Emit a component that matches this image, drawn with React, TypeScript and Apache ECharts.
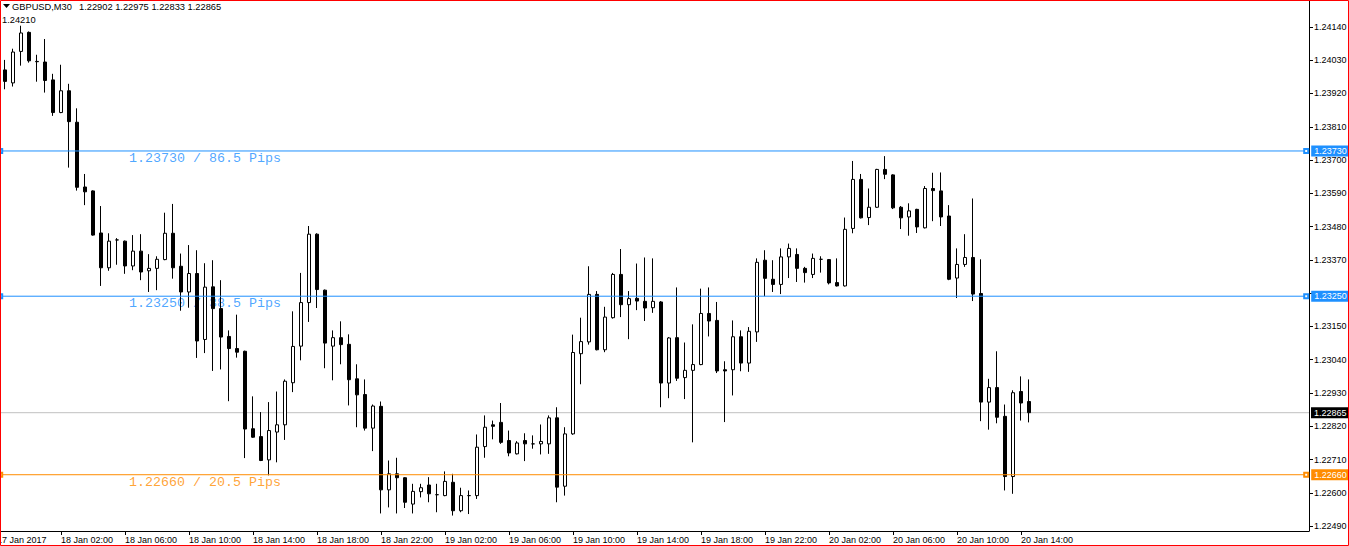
import React, { useEffect, useRef } from 'react';
import * as echarts from 'echarts';

// ---------- data ----------
const symbolTitle = 'GBPUSD,M30';
const headerOHLC = [1.22902, 1.22975, 1.22833, 1.22865];
const topPriceLabel = '1.24210';

const opens = [
  1.23998, 1.23955, 1.24059, 1.24122, 1.24026, 1.24024, 1.23965, 1.23857, 1.23929, 1.23825,
  1.23611, 1.23598, 1.23459, 1.23344, 1.23436, 1.23432, 1.23350, 1.23399, 1.23334, 1.23342,
  1.23371, 1.23458, 1.23349, 1.23264, 1.23325, 1.23107, 1.23281, 1.23209, 1.23117, 1.23077,
  1.23068, 1.22812, 1.22786, 1.22709, 1.22801, 1.22825, 1.22964, 1.23085, 1.23229, 1.23455,
  1.23270, 1.23085, 1.23113, 1.23091, 1.22977, 1.22925, 1.22814, 1.22886, 1.22610, 1.22663,
  1.22650, 1.22563, 1.22604, 1.22626, 1.22594, 1.22591, 1.22635, 1.22541, 1.22591, 1.22591,
  1.22753, 1.22825, 1.22833, 1.22773, 1.22729, 1.22773, 1.22762, 1.22762, 1.22762, 1.22848,
  1.22622, 1.22795, 1.23060, 1.23099, 1.23256, 1.23073, 1.23179, 1.23322, 1.23222, 1.23243,
  1.23233, 1.23212, 1.23231, 1.22963, 1.23113, 1.22981, 1.23005, 1.23024, 1.23193, 1.23170,
  1.23007, 1.23007, 1.23116, 1.23029, 1.23132, 1.23369, 1.23306, 1.23289, 1.23380, 1.23388,
  1.23342, 1.23322, 1.23372, 1.23371, 1.23295, 1.23284, 1.23474, 1.23636, 1.23510, 1.23544,
  1.23669, 1.23651, 1.23544, 1.23512, 1.23537, 1.23476, 1.23606, 1.23598, 1.23515, 1.23310,
  1.23355, 1.23378, 1.23259, 1.22900, 1.22948, 1.22853, 1.22654, 1.22935, 1.22902,
];
const highs = [
  1.24031, 1.24068, 1.24144, 1.24125, 1.24048, 1.24100, 1.23985, 1.24015, 1.23952, 1.23871,
  1.23654, 1.23600, 1.23548, 1.23458, 1.23442, 1.23434, 1.23452, 1.23455, 1.23389, 1.23382,
  1.23526, 1.23555, 1.23391, 1.23419, 1.23402, 1.23359, 1.23369, 1.23303, 1.23137, 1.23189,
  1.23070, 1.22919, 1.22867, 1.22900, 1.22935, 1.22975, 1.23200, 1.23327, 1.23482, 1.23458,
  1.23272, 1.23137, 1.23167, 1.23124, 1.23025, 1.22975, 1.22892, 1.22902, 1.22707, 1.22716,
  1.22652, 1.22630, 1.22630, 1.22652, 1.22630, 1.22671, 1.22663, 1.22617, 1.22608, 1.22793,
  1.22856, 1.22839, 1.22897, 1.22806, 1.22771, 1.22797, 1.22790, 1.22826, 1.22856, 1.22883,
  1.22817, 1.23123, 1.23179, 1.23349, 1.23267, 1.23215, 1.23327, 1.23406, 1.23267, 1.23358,
  1.23378, 1.23375, 1.23234, 1.23115, 1.23279, 1.23097, 1.23157, 1.23275, 1.23279, 1.23231,
  1.23035, 1.23170, 1.23137, 1.23148, 1.23375, 1.23402, 1.23369, 1.23408, 1.23424, 1.23408,
  1.23347, 1.23391, 1.23382, 1.23373, 1.23375, 1.23510, 1.23697, 1.23654, 1.23606, 1.23671,
  1.23713, 1.23653, 1.23548, 1.23557, 1.23539, 1.23614, 1.23658, 1.23659, 1.23551, 1.23408,
  1.23455, 1.23573, 1.23372, 1.22977, 1.23068, 1.22892, 1.22939, 1.22985, 1.22975,
];
const lows = [
  1.23934, 1.23943, 1.24012, 1.24022, 1.23959, 1.23923, 1.23846, 1.23855, 1.23675, 1.23599,
  1.23551, 1.23450, 1.23284, 1.23334, 1.23354, 1.23324, 1.23336, 1.23303, 1.23264, 1.23270,
  1.23369, 1.23308, 1.23202, 1.23212, 1.23046, 1.23062, 1.23003, 1.23008, 1.22903, 1.23047,
  1.22715, 1.22782, 1.22705, 1.22658, 1.22701, 1.22775, 1.22933, 1.23038, 1.23165, 1.23211,
  1.23012, 1.22972, 1.23025, 1.22889, 1.22817, 1.22806, 1.22738, 1.22532, 1.22552, 1.22532,
  1.22550, 1.22532, 1.22585, 1.22569, 1.22536, 1.22589, 1.22525, 1.22536, 1.22530, 1.22580,
  1.22716, 1.22777, 1.22762, 1.22721, 1.22727, 1.22705, 1.22746, 1.22727, 1.22729, 1.22569,
  1.22591, 1.22792, 1.22959, 1.23090, 1.23071, 1.23065, 1.23176, 1.23181, 1.23108, 1.23204,
  1.23168, 1.23195, 1.22883, 1.22913, 1.22970, 1.22910, 1.22767, 1.23022, 1.23117, 1.22996,
  1.22834, 1.22922, 1.23002, 1.23000, 1.23099, 1.23250, 1.23264, 1.23257, 1.23310, 1.23297,
  1.23295, 1.23310, 1.23328, 1.23289, 1.23282, 1.23282, 1.23458, 1.23507, 1.23485, 1.23542,
  1.23637, 1.23538, 1.23472, 1.23450, 1.23459, 1.23474, 1.23498, 1.23482, 1.23303, 1.23244,
  1.23347, 1.23234, 1.22837, 1.22809, 1.22830, 1.22608, 1.22597, 1.22839, 1.22833,
];
const closes = [
  1.23960, 1.24057, 1.24120, 1.24028, 1.24025, 1.23963, 1.23857, 1.23929, 1.23827, 1.23610,
  1.23595, 1.23452, 1.23344, 1.23432, 1.23436, 1.23350, 1.23399, 1.23330, 1.23342, 1.23372,
  1.23458, 1.23344, 1.23264, 1.23325, 1.23102, 1.23280, 1.23209, 1.23115, 1.23077, 1.23065,
  1.22811, 1.22784, 1.22707, 1.22806, 1.22825, 1.22969, 1.23084, 1.23229, 1.23455, 1.23272,
  1.23095, 1.23113, 1.23090, 1.22974, 1.22924, 1.22814, 1.22887, 1.22610, 1.22663, 1.22650,
  1.22569, 1.22605, 1.22617, 1.22597, 1.22594, 1.22638, 1.22541, 1.22591, 1.22591, 1.22751,
  1.22817, 1.22820, 1.22767, 1.22732, 1.22765, 1.22762, 1.22762, 1.22770, 1.22848, 1.22619,
  1.22795, 1.23064, 1.23100, 1.23256, 1.23073, 1.23181, 1.23322, 1.23222, 1.23242, 1.23234,
  1.23211, 1.23233, 1.22963, 1.23112, 1.22979, 1.23005, 1.23024, 1.23193, 1.23168, 1.23003,
  1.23003, 1.23116, 1.23029, 1.23134, 1.23362, 1.23309, 1.23289, 1.23380, 1.23408, 1.23342,
  1.23328, 1.23375, 1.23372, 1.23294, 1.23284, 1.23471, 1.23636, 1.23509, 1.23544, 1.23669,
  1.23653, 1.23542, 1.23509, 1.23532, 1.23479, 1.23606, 1.23599, 1.23512, 1.23306, 1.23355,
  1.23378, 1.23257, 1.22900, 1.22948, 1.22850, 1.22654, 1.22931, 1.22897, 1.22865,
];

// time-axis labels, one every 8 bars (4 hours of M30 bars)
const timeLabels = [
  '17 Jan 2017', '18 Jan 02:00', '18 Jan 06:00', '18 Jan 10:00', '18 Jan 14:00', '18 Jan 18:00',
  '18 Jan 22:00', '19 Jan 02:00', '19 Jan 06:00', '19 Jan 10:00', '19 Jan 14:00', '19 Jan 18:00',
  '19 Jan 22:00', '20 Jan 02:00', '20 Jan 06:00', '20 Jan 10:00', '20 Jan 14:00',
];
const priceTicks = [
  1.2249, 1.226, 1.2271, 1.2282, 1.2293, 1.2304, 1.2315, 1.2326,
  1.2337, 1.2348, 1.2359, 1.237, 1.2381, 1.2392, 1.2403, 1.2414,
];
const levelPrices = [1.2373, 1.2325, 1.2266];
const levelColors = ['#1E90FF', '#1E90FF', '#FF8C00'];
const currentPrice = 1.22865;

// ---------- layout constants ----------
const SANS = 'Liberation Sans, Arial, sans-serif';
const MONO = 'Liberation Mono, Courier New, monospace';
const X_MIN = -1;
const X_MAX = 163;
const Y_MIN = 1.22474;
const Y_MAX = 1.24229;
const BARS_PER_LABEL = 8;
const LEVEL_START = -0.6;
const LEVEL_END = 162.65;
const PIPS_ANCHOR = 15.5;
const LABEL_HIDE_GAP = 0.00015; // price labels covered by a level's price box

export default function App() {
  const ref = useRef<HTMLDivElement>(null);

  useEffect(() => {
    if (!ref.current) return;
    const chart = echarts.init(ref.current, null, { renderer: 'svg' });

    const xTickValues = timeLabels.map((_, i) => X_MIN + BARS_PER_LABEL * i);
    const priceLabelValues = priceTicks.filter(
      (t) => !levelPrices.some((p) => Math.abs(p - t) < LABEL_HIDE_GAP)
    );
    const candleData = opens.map((o, i) => [i, o, closes[i], lows[i], highs[i]]);

    const levelSeries = levelPrices.map((p, i) => ({
      type: 'line',
      z: 4,
      clip: false,
      silent: true,
      data: [[LEVEL_START, p], [LEVEL_END, p]],
      symbol: 'emptyRect',
      symbolSize: 4,
      showSymbol: true,
      lineStyle: { color: levelColors[i], width: 1 },
      itemStyle: { color: levelColors[i], borderColor: levelColors[i], borderWidth: 1 },
      endLabel: {
        show: true,
        formatter: () => p.toFixed(5),
        distance: 5,
        color: '#fff',
        backgroundColor: levelColors[i],
        fontFamily: SANS,
        fontSize: 9,
        lineHeight: 11,
        padding: [0, 4, 0, 3],
      },
    }));

    const option: any = {
      animation: false,
      backgroundColor: '#fff',
      grid: {
        left: -3, top: 0, width: 1312, height: 531, show: false,
        containLabel: false, outerBoundsMode: 'none',
      },
      xAxis: {
        type: 'value',
        min: X_MIN,
        max: X_MAX,
        axisLine: { show: true, onZero: false, lineStyle: { color: '#000', width: 1 } },
        axisTick: { show: true, customValues: xTickValues, length: 4, lineStyle: { color: '#000' } },
        axisLabel: {
          show: true,
          customValues: xTickValues,
          formatter: (v: number) => timeLabels[Math.round((v - X_MIN) / BARS_PER_LABEL)] ?? '',
          align: 'left',
          margin: 4,
          fontSize: 9,
          fontFamily: SANS,
          color: '#000',
        },
        splitLine: { show: false },
      },
      yAxis: {
        type: 'value',
        position: 'right',
        min: Y_MIN,
        max: Y_MAX,
        axisLine: { show: true, onZero: false, lineStyle: { color: '#000', width: 1 } },
        axisTick: { show: true, customValues: priceTicks, length: 4, lineStyle: { color: '#000' } },
        axisLabel: {
          show: true,
          customValues: priceLabelValues,
          formatter: (v: number) => v.toFixed(5),
          margin: 5,
          fontSize: 9,
          fontFamily: SANS,
          color: '#000',
        },
        splitLine: { show: false },
      },
      graphic: [
        { type: 'polygon', shape: { points: [[3, 4], [10, 4], [6.5, 8]] }, style: { fill: '#000' } },
        {
          type: 'text', x: 12, y: 7.2,
          style: { text: symbolTitle, fontSize: 9.3, fontFamily: SANS, fill: '#000', align: 'left', verticalAlign: 'middle' },
        },
        {
          type: 'text', x: 79, y: 7.2,
          style: { text: headerOHLC.map((v) => v.toFixed(5)).join(' '), fontSize: 9.3, fontFamily: SANS, fill: '#000', align: 'left', verticalAlign: 'middle' },
        },
        {
          type: 'text', x: 2, y: 19.7,
          style: { text: topPriceLabel, fontSize: 9.3, fontFamily: SANS, fill: '#000', align: 'left', verticalAlign: 'middle' },
        },
        {
          type: 'rect', z: 100,
          shape: { x: 0.5, y: 0.5, width: 1348, height: 545 },
          style: { fill: 'none', stroke: '#FF0000', lineWidth: 1 },
        },
      ],
      series: [
        {
          type: 'scatter',
          z: 1,
          silent: true,
          symbolSize: 0,
          data: levelPrices.map((p, i) => ({
            value: [PIPS_ANCHOR, p],
            label: { color: levelColors[i] },
          })),
          label: {
            show: true,
            position: [0, 1],
            fontFamily: MONO,
            fontSize: 13.33,
            formatter: (params: any) => {
              const p = params.value[1];
              return `${p.toFixed(5)} / ${(Math.abs(p - currentPrice) * 10000).toFixed(1)} Pips`;
            },
          },
        },
        {
          type: 'candlestick',
          z: 3,
          data: candleData,
          encode: { x: 0, y: [1, 2, 3, 4] },
          barWidth: 4,
          itemStyle: {
            color: '#ffffff',
            color0: '#000000',
            borderColor: '#000000',
            borderColor0: '#000000',
            borderColorDoji: '#000000',
            borderWidth: 1,
          },
        },
        {
          type: 'line',
          z: 2,
          clip: false,
          silent: true,
          data: [[X_MIN, currentPrice], [X_MAX, currentPrice]],
          symbol: 'none',
          lineStyle: { color: '#C0C0C0', width: 1 },
          endLabel: {
            show: true,
            formatter: () => currentPrice.toFixed(5),
            distance: 2,
            color: '#fff',
            backgroundColor: '#000',
            fontFamily: SANS,
            fontSize: 9,
            lineHeight: 11,
            padding: [0, 4, 0, 3],
          },
        },
        ...levelSeries,
      ],
    };

    chart.setOption(option);
    return () => chart.dispose();
  }, []);

  return (
    <div
      ref={ref}
      style={{ position: 'absolute', left: 0, top: 0, width: 1349, height: 546, background: '#fff' }}
    />
  );
}
